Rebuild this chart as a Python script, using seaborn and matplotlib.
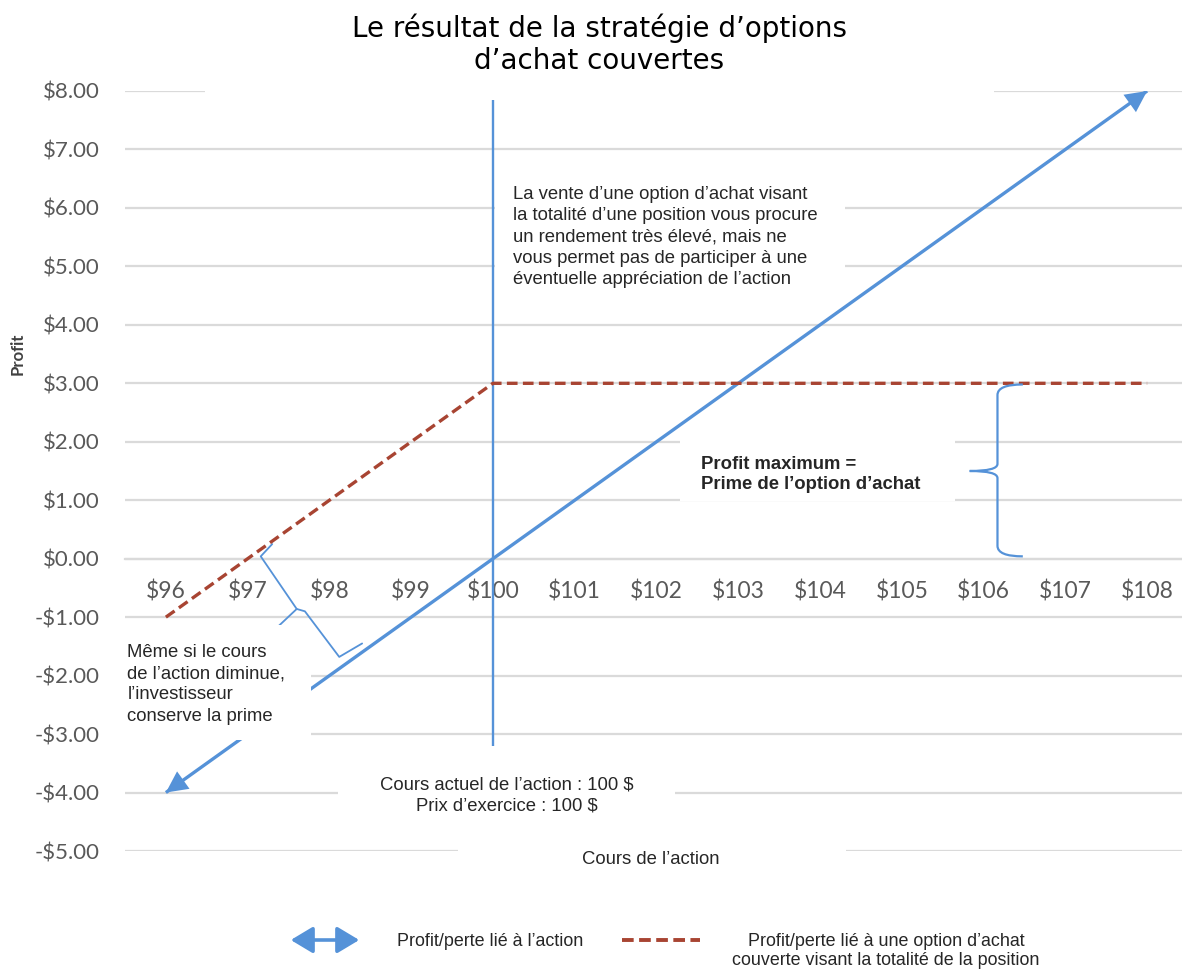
import numpy as np
import pandas as pd
import matplotlib
matplotlib.use("Agg")
import matplotlib.pyplot as plt
import seaborn as sns
from matplotlib.patches import Rectangle, FancyArrowPatch, PathPatch
from matplotlib.lines import Line2D
from matplotlib.path import Path
from matplotlib import font_manager

# ---------------- data ----------------
prices = [96, 97, 98, 99, 100, 101, 102, 103, 104, 105, 106, 107, 108]
price_labels = ["$96", "$97", "$98", "$99", "$100", "$101", "$102", "$103",
                "$104", "$105", "$106", "$107", "$108"]
stock_profit = [-4, -3, -2, -1, 0, 1, 2, 3, 4, 5, 6, 7, 8]
covered_call_profit = [-1, 0, 1, 2, 3, 3, 3, 3, 3, 3, 3, 3, 3]
y_ticks = [-5, -4, -3, -2, -1, 0, 1, 2, 3, 4, 5, 6, 7, 8]
y_labels = ["-$5.00", "-$4.00", "-$3.00", "-$2.00", "-$1.00", "$0.00", "$1.00",
            "$2.00", "$3.00", "$4.00", "$5.00", "$6.00", "$7.00", "$8.00"]
strike = 100
strike_line_range = [-3.2, 7.85]

title = "Le résultat de la stratégie d’options\nd’achat couvertes"
note_top = ("La vente d’une option d’achat visant\nla totalité d’une position vous procure\n"
            "un rendement très élevé, mais ne\nvous permet pas de participer à une\n"
            "éventuelle appréciation de l’action")
note_max = "Profit maximum =\nPrime de l’option d’achat"
note_low = "Même si le cours\nde l’action diminue,\nl’investisseur\nconserve la prime"
note_cur = "Cours actuel de l’action : 100 $\nPrix d’exercice : 100 $"
xlabel = "Cours de l’action"
ylabel = "Profit"
legend_stock = "Profit/perte lié à l’action"
legend_cc = "Profit/perte lié à une option d’achat\ncouverte visant la totalité de la position"

df = pd.DataFrame({"price": prices, "stock": stock_profit, "cc": covered_call_profit})

# ---------------- style ----------------
sns.set_style("white")
plt.rcParams["font.family"] = ["Liberation Sans", "DejaVu Sans"]

installed = {f.name for f in font_manager.fontManager.ttflist}
if "Liberation Sans Narrow" in installed:
    LEG_FAMILY, LEG_FS = ["Liberation Sans Narrow", "Liberation Sans"], 14
else:
    LEG_FAMILY, LEG_FS = ["Liberation Sans", "DejaVu Sans"], 12.9

BLUE = "#5592D8"
RED = "#A84432"
GRID = "#DADADA"
TICK = "#595959"

W, H = 1182, 972
fig = plt.figure(figsize=(W / 100, H / 100), dpi=100)
ax = fig.add_axes([125 / W, 1 - 851 / H, (1188 - 125) / W, 760 / H])
ax.set_xlim(95.5, 108.5)
ax.set_ylim(-5, 8)

# grid
ax.set_yticks(y_ticks)
ax.set_yticklabels(y_labels)
ax.yaxis.grid(True, color=GRID, linewidth=1.6, zorder=0.5)
ax.xaxis.grid(False)
ax.set_axisbelow(True)
for s in ["top", "right", "left"]:
    ax.spines[s].set_visible(False)
ax.spines["bottom"].set_position(("data", 0))
ax.spines["bottom"].set_color(GRID)
ax.spines["bottom"].set_linewidth(1.6)
ax.spines["bottom"].set_zorder(0.6)

ax.set_xticks(prices)
ax.set_xticklabels(price_labels)
ax.tick_params(axis="x", direction="in", length=4, width=1, color="#BFBFBF",
               pad=16, labelsize=16.5, labelcolor=TICK)
ax.tick_params(axis="y", length=0, pad=18, labelsize=16, labelcolor=TICK)
for lab in ax.get_xticklabels() + ax.get_yticklabels():
    lab.set_fontfamily(["Lato", "DejaVu Sans"])

# ---------------- series ----------------
sns.lineplot(data=df, x="price", y="stock", ax=ax, color=BLUE, linewidth=2.4,
             zorder=2, solid_capstyle="butt", legend=False)
sns.lineplot(data=df, x="price", y="cc", ax=ax, color=RED, linewidth=2.4,
             zorder=3, legend=False)
ax.lines[-1].set_dashes((3.2, 1.6))
ax.lines[-1].set_dash_capstyle("butt")

# arrow heads of stock line
for i_end, i_prev in [(-1, -2), (0, 1)]:
    ax.annotate("", xy=(prices[i_end], stock_profit[i_end]),
                xytext=(prices[i_prev], stock_profit[i_prev]),
                arrowprops=dict(arrowstyle="-|>,head_length=0.7,head_width=0.35",
                                color=BLUE, lw=0, mutation_scale=22,
                                shrinkA=0, shrinkB=0),
                zorder=2, annotation_clip=False)

ax.vlines(strike, strike_line_range[0], strike_line_range[1], color=BLUE,
          linewidth=1.7, zorder=2)

ax.set_xlabel("")
ax.set_ylabel("")

# ---------------- white boxes ----------------
def wbox(x0, x1, y0, y1, z=1.5):
    ax.add_patch(Rectangle((x0, y0), x1 - x0, y1 - y0, facecolor="white",
                           edgecolor="none", zorder=z, clip_on=False))

wbox(96.48, 106.13, 7.85, 8.3)          # title area
wbox(100.02, 104.31, 4.37, 6.65)        # top note
wbox(102.29, 105.65, 0.99, 2.06)        # profit max
wbox(95.4, 97.77, -3.10, -1.13, z=2.5)  # low note (covers stock line)
wbox(98.10, 102.23, -4.73, -3.20)       # current price note
wbox(99.57, 104.32, -5.3, -4.85)        # x label

# ---------------- braces ----------------
def poly(points, curves):
    verts = [points[0]]
    codes = [Path.MOVETO]
    for c, p in zip(curves, points[1:]):
        if c is None:
            verts.append(p); codes.append(Path.LINETO)
        else:
            verts += [c, p]; codes += [Path.CURVE3, Path.CURVE3]
    return Path(verts, codes)

bx, tipx, endx = 106.17, 105.83, 106.48
right_brace = poly(
    [(endx, 2.98), (bx, 2.80), (bx, 1.62), (tipx, 1.50), (bx, 1.38), (bx, 0.22), (endx, 0.04)],
    [(bx, 2.98), None, (bx, 1.50), (bx, 1.50), None, (bx, 0.04)])
ax.add_patch(PathPatch(right_brace, facecolor="none", edgecolor=BLUE, lw=1.6, zorder=3))

left_brace_pts = [(97.30, 0.25), (97.16, 0.04), (97.60, -0.86), (97.38, -1.15)]
left_brace_pts2 = [(97.60, -0.86), (97.70, -0.90), (98.12, -1.68), (98.40, -1.45)]
for pts in (left_brace_pts, left_brace_pts2):
    xs, ys = zip(*pts)
    ax.plot(xs, ys, color=BLUE, lw=1.3, zorder=2, solid_joinstyle="round")

# ---------------- texts ----------------
FS = 13.3
ax.text(100.25, 6.37, note_top, fontsize=FS, va="top", ha="left", linespacing=1.32, zorder=4)
ax.text(102.54, 1.76, note_max, fontsize=FS, fontweight="bold", va="top", ha="left",
        linespacing=1.27, zorder=4)
ax.text(95.53, -1.46, note_low, fontsize=FS, va="top", ha="left", linespacing=1.32, zorder=4)
ax.text(100.17, -3.73, note_cur, fontsize=FS, va="top", ha="center", linespacing=1.32,
        zorder=4, multialignment="center")
ax.text(101.93, -5.15, xlabel, fontsize=FS, va="center", ha="center", zorder=4,
        clip_on=False)

fig.text(599 / W, 1 - 44 / H, title, fontsize=20, ha="center", va="center",
         linespacing=1.2, color="black", family=["DejaVu Sans"])
fig.text(18 / W, 1 - 354 / H, ylabel, rotation=90, fontsize=12, fontweight="bold",
         color="#404040", ha="center", va="center", family=["Lato", "DejaVu Sans"])

# ---------------- legend ----------------
ly = 1 - 940 / H
fig.add_artist(FancyArrowPatch((288 / W, ly), (362 / W, ly), transform=fig.transFigure,
                               arrowstyle="<|-|>,head_length=0.75,head_width=0.45",
                               mutation_scale=18, color=BLUE, lw=2.6))
fig.add_artist(Line2D([622 / W, 700 / W], [ly, ly], transform=fig.transFigure,
                      color=RED, lw=2.8, dashes=(3.0, 1.4), dash_capstyle="butt"))
fig.text(397 / W, 1 - 941 / H, legend_stock, fontsize=LEG_FS, ha="left", va="center",
         family=LEG_FAMILY)
fig.text(886 / W, 1 - 951 / H, legend_cc, fontsize=LEG_FS, ha="center", va="center",
         linespacing=1.2, multialignment="center", family=LEG_FAMILY)

fig.savefig("out.png", dpi=100)
